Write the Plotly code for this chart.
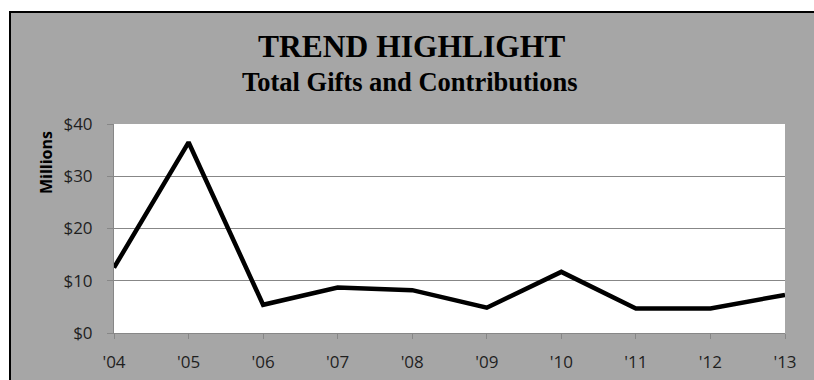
import plotly.graph_objects as go

# Total gifts and contributions by fiscal year, in millions of dollars
years = ["'04", "'05", "'06", "'07", "'08", "'09", "'10", "'11", "'12", "'13"]
gifts = [12.5, 36.5, 5.4, 8.7, 8.2, 4.85, 11.7, 4.7, 4.7, 7.3]

y_ticks = [0, 10, 20, 30, 40]
y_tick_text = ["$0", "$10", "$20", "$30", "$40"]

W, H = 814, 380
ML, MR, MT, MB = 114, 29, 124, 47
PW, PH = W - ML - MR, H - MT - MB


def px_x(x):
    return (x - ML) / PW


def px_y(y):
    return (H - MB - y) / PH


GRAY = "#a6a6a6"
GRID = "#878787"
label_font = dict(family="Open Sans, sans-serif", size=17, color="#1f1f1f")

fig = go.Figure(
    go.Scatter(
        x=years,
        y=gifts,
        mode="lines",
        line=dict(color="black", width=4.5),
        hoverinfo="skip",
    )
)

fig.update_layout(
    width=W,
    height=H,
    margin=dict(l=ML, r=MR, t=MT, b=MB),
    paper_bgcolor=GRAY,
    plot_bgcolor="white",
    showlegend=False,
    xaxis=dict(
        type="category",
        range=[0, len(years) - 1],
        automargin=False,
        showgrid=False,
        showline=True,
        linecolor=GRID,
        linewidth=1,
        ticks="outside",
        ticklen=5,
        tickcolor=GRID,
        tickfont=label_font,
        ticklabelstandoff=9,
        zeroline=False,
    ),
    yaxis=dict(
        range=[0, 40],
        automargin=False,
        tickvals=y_ticks,
        ticktext=y_tick_text,
        showgrid=True,
        gridcolor=GRID,
        gridwidth=1,
        showline=True,
        linecolor=GRID,
        linewidth=1,
        ticks="outside",
        ticklen=6,
        tickcolor=GRID,
        tickfont=label_font,
        ticklabelstandoff=11,
        zeroline=False,
    ),
    shapes=[
        # grey panel fill along the right edge
        dict(type="rect", xref="paper", yref="paper", layer="above",
             x0=px_x(798), x1=px_x(W), y0=px_y(H), y1=px_y(13),
             fillcolor=GRAY, line=dict(width=0)),
        # white page strips outside the framed panel
        dict(type="rect", xref="paper", yref="paper", layer="above",
             x0=px_x(0), x1=px_x(W), y0=px_y(11), y1=px_y(0),
             fillcolor="white", line=dict(width=0)),
        dict(type="rect", xref="paper", yref="paper", layer="above",
             x0=px_x(0), x1=px_x(9), y0=px_y(H), y1=px_y(0),
             fillcolor="white", line=dict(width=0)),
        # panel frame, left and top edges
        dict(type="line", xref="paper", yref="paper", layer="above",
             x0=px_x(10), x1=px_x(10), y0=px_y(11), y1=px_y(H),
             line=dict(color="black", width=2)),
        dict(type="line", xref="paper", yref="paper", layer="above",
             x0=px_x(9), x1=px_x(W), y0=px_y(12), y1=px_y(12),
             line=dict(color="black", width=2)),
    ],
    annotations=[
        dict(text="<b>TREND HIGHLIGHT</b>", xref="paper", yref="paper",
             x=px_x(411), y=px_y(46), xanchor="center", yanchor="middle",
             showarrow=False,
             font=dict(family="Liberation Serif, serif", size=31.5, color="black")),
        dict(text="<b>Total Gifts and Contributions</b>", xref="paper", yref="paper",
             x=px_x(410), y=px_y(82), xanchor="center", yanchor="middle",
             showarrow=False,
             font=dict(family="Liberation Serif, serif", size=26.5, color="black")),
        dict(text="<b>Millions</b>", xref="paper", yref="paper",
             x=px_x(46), y=px_y(163), xanchor="center", yanchor="middle",
             textangle=-90, showarrow=False,
             font=dict(family="Open Sans, sans-serif", size=16, color="black")),
    ],
)

fig.write_html("out.html")
